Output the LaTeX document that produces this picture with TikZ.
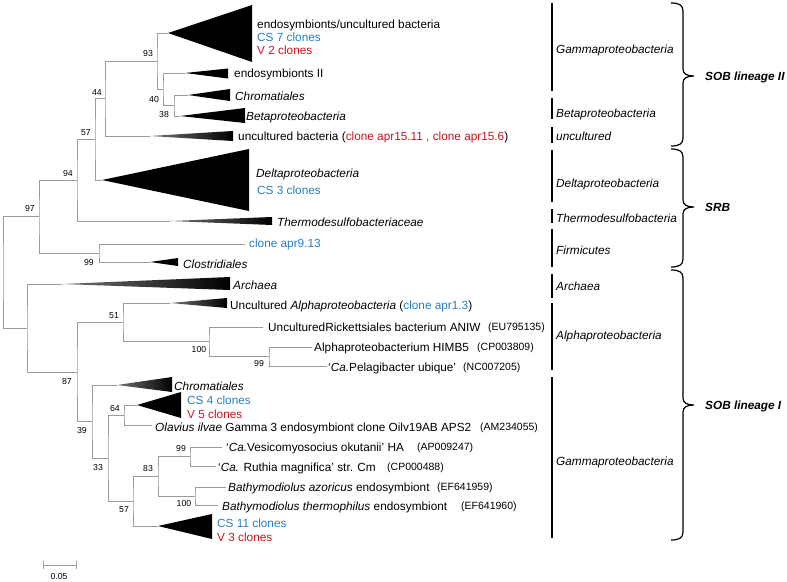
\documentclass[tikz,border=0pt]{standalone}
\usepackage{fontspec}
\setmainfont{Liberation Sans}
\definecolor{csblue}{RGB}{38,126,192}
\definecolor{vred}{RGB}{200,20,30}
\definecolor{branch}{RGB}{155,155,155}
\newcommand\mybrace[3]{\draw[brc] (671,#1) .. controls (679,#1) and (683,{#1+2}) .. (683,{#1+8}) -- (683,{#2-7}) .. controls (683,{#2-2}) and (687,#2) .. (694,#2) .. controls (687,#2) and (683,{#2+2}) .. (683,{#2+7}) -- (683,{#3-8}) .. controls (683,{#3-2}) and (679,#3) .. (671,#3);}
\begin{document}
\begin{tikzpicture}[x=1pt,y=-1pt,
  br/.style={draw=branch, line width=0.8pt},
  lab/.style={anchor=west, inner sep=0pt, font=\fontsize{11.8}{14}\selectfont, text height=8.4pt, text depth=0pt},
  acc/.style={anchor=west, inner sep=0pt, font=\fontsize{10.5}{12}\selectfont, text height=7.5pt, text depth=0pt},
  bs/.style={inner sep=0pt, font=\fontsize{8.7}{10}\selectfont, text height=6.2pt, text depth=0pt},
  grp/.style={lab, font=\fontsize{11.8}{14}\selectfont\itshape},
  sob/.style={lab, font=\fontsize{11.8}{14}\selectfont\bfseries\itshape},
  bar/.style={line width=2.2pt},
  brc/.style={line width=1.2pt},
  wedge/.style={fill=black},
  gwedge/.style={left color=black!55, middle color=black, right color=black}]
\useasboundingbox (0,0) rectangle (787,581);

% ---------- internal nodes ----------
\coordinate (root) at (3,272);
\coordinate (n97) at (39,216.5);
\coordinate (n94) at (77,180);
\coordinate (n57) at (95,139);
\coordinate (n44) at (105,98.5);
\coordinate (n93) at (157,61);
\coordinate (n40) at (163,89);
\coordinate (n38) at (174,105.5);
\coordinate (n99) at (99,253);
\coordinate (nlow) at (27,328);
\coordinate (n87) at (77,372);
\coordinate (n51) at (123,322);
\coordinate (n100a) at (209,341.5);
\coordinate (n99b) at (269,356.5);
\coordinate (n39) at (92,421.5);
\coordinate (n33) at (108,458);
\coordinate (n64) at (124,415);
\coordinate (n57b) at (133,501);
\coordinate (n83) at (158,476);
\coordinate (n99c) at (190,456.5);
\coordinate (n100c) at (195,496);

% ---------- tips / leaf ends ----------
\coordinate (tTop) at (168,33);
\coordinate (tEndo) at (185,73);
\coordinate (tChromA) at (188,95);
\coordinate (tBeta) at (180,116);
\coordinate (tUnc) at (150,136);
\coordinate (tDelta) at (102,180);
\coordinate (tThermo) at (170,221);
\coordinate (lApr) at (245,244);
\coordinate (tClost) at (150,262);
\coordinate (tArch) at (62,284);
\coordinate (tUAlpha) at (170,303);
\coordinate (lRick) at (263,327);
\coordinate (lHimb) at (312,347);
\coordinate (lPel) at (327,366);
\coordinate (tChromB) at (117,385);
\coordinate (tCS4) at (137,405);
\coordinate (lOlav) at (152,425);
\coordinate (lVes) at (222,447);
\coordinate (lRuth) at (216,466);
\coordinate (lAzo) at (226,487);
\coordinate (lTherm) at (218,505);
\coordinate (tCS11) at (158,526);

% ---------- wedges ----------
\fill[wedge] (tTop) -- (252,5) -- (252,62) -- cycle;
\fill[wedge] (tEndo) -- (228,68.5) -- (228,78.5) -- cycle;
\fill[wedge] (tChromA) -- (230,89) -- (230,101) -- cycle;
\fill[wedge] (tBeta) -- (245,108) -- (245,123) -- cycle;
\shade[gwedge] (tUnc) -- (233,131) -- (233,141) -- cycle;
\fill[wedge] (tDelta) -- (249,149) -- (249,211) -- cycle;
\shade[gwedge] (tThermo) -- (272,217) -- (272,225) -- cycle;
\fill[wedge] (tClost) -- (178,258) -- (178,266) -- cycle;
\shade[gwedge] (tArch) -- (230,277) -- (230,290) -- cycle;
\shade[gwedge] (tUAlpha) -- (227,298) -- (227,308) -- cycle;
\shade[gwedge] (tChromB) -- (172,377) -- (172,392) -- cycle;
\fill[wedge] (tCS4) -- (181,392) -- (181,418) -- cycle;
\fill[wedge] (tCS11) -- (212,514) -- (212,539) -- cycle;

% ---------- branches ----------
\draw[br] (n97) -| (root) |- (nlow);
\draw[br] (n94) -| (n97) |- (n99);
\draw[br] (n57) -| (n94) |- (tThermo);
\draw[br] (n44) -| (n57) |- (tDelta);
\draw[br] (n93) -| (n44) |- (tUnc);
\draw[br] (tTop) -| (n93) |- (n40);
\draw[br] (tEndo) -| (n40) |- (n38);
\draw[br] (tChromA) -| (n38) |- (tBeta);
\draw[br] (lApr) -| (n99) |- (tClost);
\draw[br] (tArch) -| (nlow) |- (n87);
\draw[br] (n51) -| (n87) |- (n39);
\draw[br] (tUAlpha) -| (n51) |- (n100a);
\draw[br] (lRick) -| (n100a) |- (n99b);
\draw[br] (lHimb) -| (n99b) |- (lPel);
\draw[br] (tChromB) -| (n39) |- (n33);
\draw[br] (n64) -| (n33) |- (n57b);
\draw[br] (tCS4) -| (n64) |- (lOlav);
\draw[br] (n83) -| (n57b) |- (tCS11);
\draw[br] (n99c) -| (n83) |- (n100c);
\draw[br] (lVes) -| (n99c) |- (lRuth);
\draw[br] (lAzo) -| (n100c) |- (lTherm);

% ---------- bootstrap values ----------
\node[bs] (b93) at (148,53) {93};
\node[bs] (b44) at (97,92) {44};
\node[bs] (b40) at (154,99) {40};
\node[bs] (b38) at (164,114) {38};
\node[bs] (b57) at (86,132) {57};
\node[bs] (b94) at (68,173) {94};
\node[bs] (b97) at (30,208) {97};
\node[bs] (b99) at (89,262) {99};
\node[bs] (b51) at (114,315) {51};
\node[bs] (b100a) at (199,349) {100};
\node[bs] (b99b) at (259,363) {99};
\node[bs] (b87) at (67,381) {87};
\node[bs] (b64) at (115,408) {64};
\node[bs] (b39) at (82,430) {39};
\node[bs] (b33) at (98,467) {33};
\node[bs] (b83) at (148,468) {83};
\node[bs] (b99c) at (181,448) {99};
\node[bs] (b100c) at (184,503) {100};
\node[bs] (b57b) at (124,509) {57};

% ---------- leaf labels ----------
\node[lab] (L1) at (257,24) {endosymbionts/uncultured bacteria};
\node[lab, text=csblue] (L1b) at (257,37) {CS 7 clones};
\node[lab, text=vred] (L1c) at (257,50) {V 2 clones};
\node[lab] (L2) at (234,73) {endosymbionts II};
\node[lab] (L3) at (235,96) {\textit{Chromatiales}};
\node[lab] (L4) at (246,116) {\textit{Betaproteobacteria}};
\node[lab] (L5) at (238,136) {uncultured bacteria (\textcolor{vred}{clone apr15.11 , clone apr15.6})};
\node[lab] (L6) at (256,173) {\textit{Deltaproteobacteria}};
\node[lab, text=csblue] (L6b) at (257,190) {CS 3 clones};
\node[lab] (L7) at (277,222) {\textit{Thermodesulfobacteriaceae}};
\node[lab, text=csblue] (L8) at (249,243) {clone apr9.13};
\node[lab] (L9) at (183,264) {\textit{Clostridiales}};
\node[lab] (L10) at (233,285) {\textit{Archaea}};
\node[lab] (L11) at (230,305) {Uncultured \textit{Alphaproteobacteria} (\textcolor{csblue}{clone apr1.3})};
\node[lab] (L12) at (268,327) {UnculturedRickettsiales bacterium ANIW};
\node[acc] (A12) at (488,327) {(EU795135)};
\node[lab] (L13) at (314,347) {Alphaproteobacterium HIMB5};
\node[acc] (A13) at (477,347) {(CP003809)};
\node[lab] (L14) at (328,367) {‘\textit{Ca.}Pelagibacter ubique’};
\node[acc] (A14) at (463,367) {(NC007205)};
\node[lab] (L15) at (174,386) {\textit{Chromatiales}};
\node[lab, text=csblue] (L16) at (187,400) {CS 4 clones};
\node[lab, text=vred] (L16b) at (187,414) {V 5 clones};
\node[lab] (L17) at (155,427) {\textit{Olavius ilvae} Gamma 3 endosymbiont clone Oilv19AB APS2};
\node[acc] (A17) at (480,427) {(AM234055)};
\node[lab] (L18) at (226,447) {‘\textit{Ca.}Vesicomyosocius okutanii’ HA};
\node[acc] (A18) at (417,447) {(AP009247)};
\node[lab] (L19) at (218,467) {‘\textit{Ca.} Ruthia magnifica’ str. Cm};
\node[acc] (A19) at (387,467) {(CP000488)};
\node[lab] (L20) at (228,487) {\textit{Bathymodiolus azoricus} endosymbiont};
\node[acc] (A20) at (437,487) {(EF641959)};
\node[lab] (L21) at (222,506) {\textit{Bathymodiolus thermophilus} endosymbiont};
\node[acc] (A21) at (461,506) {(EF641960)};
\node[lab, text=csblue] (L22) at (217,523) {CS 11 clones};
\node[lab, text=vred] (L22b) at (217,537) {V 3 clones};

% ---------- group bars ----------
\draw[bar] (552,3) -- (552,91);
\draw[bar] (552,98) -- (552,119);
\draw[bar] (552,127) -- (552,143);
\draw[bar] (552,150) -- (552,202);
\draw[bar] (552,209) -- (552,223);
\draw[bar] (552,229) -- (552,267);
\draw[bar] (552,274) -- (552,298);
\draw[bar] (552,303) -- (552,370);
\draw[bar] (552,377) -- (552,538);
\node[grp] (G1) at (556,49) {Gammaproteobacteria};
\node[grp] (G2) at (556,113) {Betaproteobacteria};
\node[grp] (G3) at (556,136) {uncultured};
\node[grp] (G4) at (556,183) {Deltaproteobacteria};
\node[grp] (G5) at (556,218) {Thermodesulfobacteria};
\node[grp] (G6) at (556,250) {Firmicutes};
\node[grp] (G7) at (556,286) {Archaea};
\node[grp] (G8) at (556,335) {Alphaproteobacteria};
\node[grp] (G9) at (556,461) {Gammaproteobacteria};

% ---------- braces ----------
\mybrace{3}{76}{146}
\mybrace{149}{207}{267}
\mybrace{270}{405}{540}
\node[sob] (S1) at (705,76) {SOB lineage II};
\node[sob] (S2) at (705,207) {SRB};
\node[sob] (S3) at (705,405) {SOB lineage I};

% ---------- scale bar ----------
\coordinate (sc1) at (43,565);
\coordinate (sc2) at (76,565);
\draw[br] (sc1) -- (sc2);
\draw[br] ([yshift=4pt]sc1) -- ([yshift=-4pt]sc1);
\draw[br] ([yshift=4pt]sc2) -- ([yshift=-4pt]sc2);
\node[bs] (scl) at (59,576) {0.05};
\end{tikzpicture}
\end{document}
